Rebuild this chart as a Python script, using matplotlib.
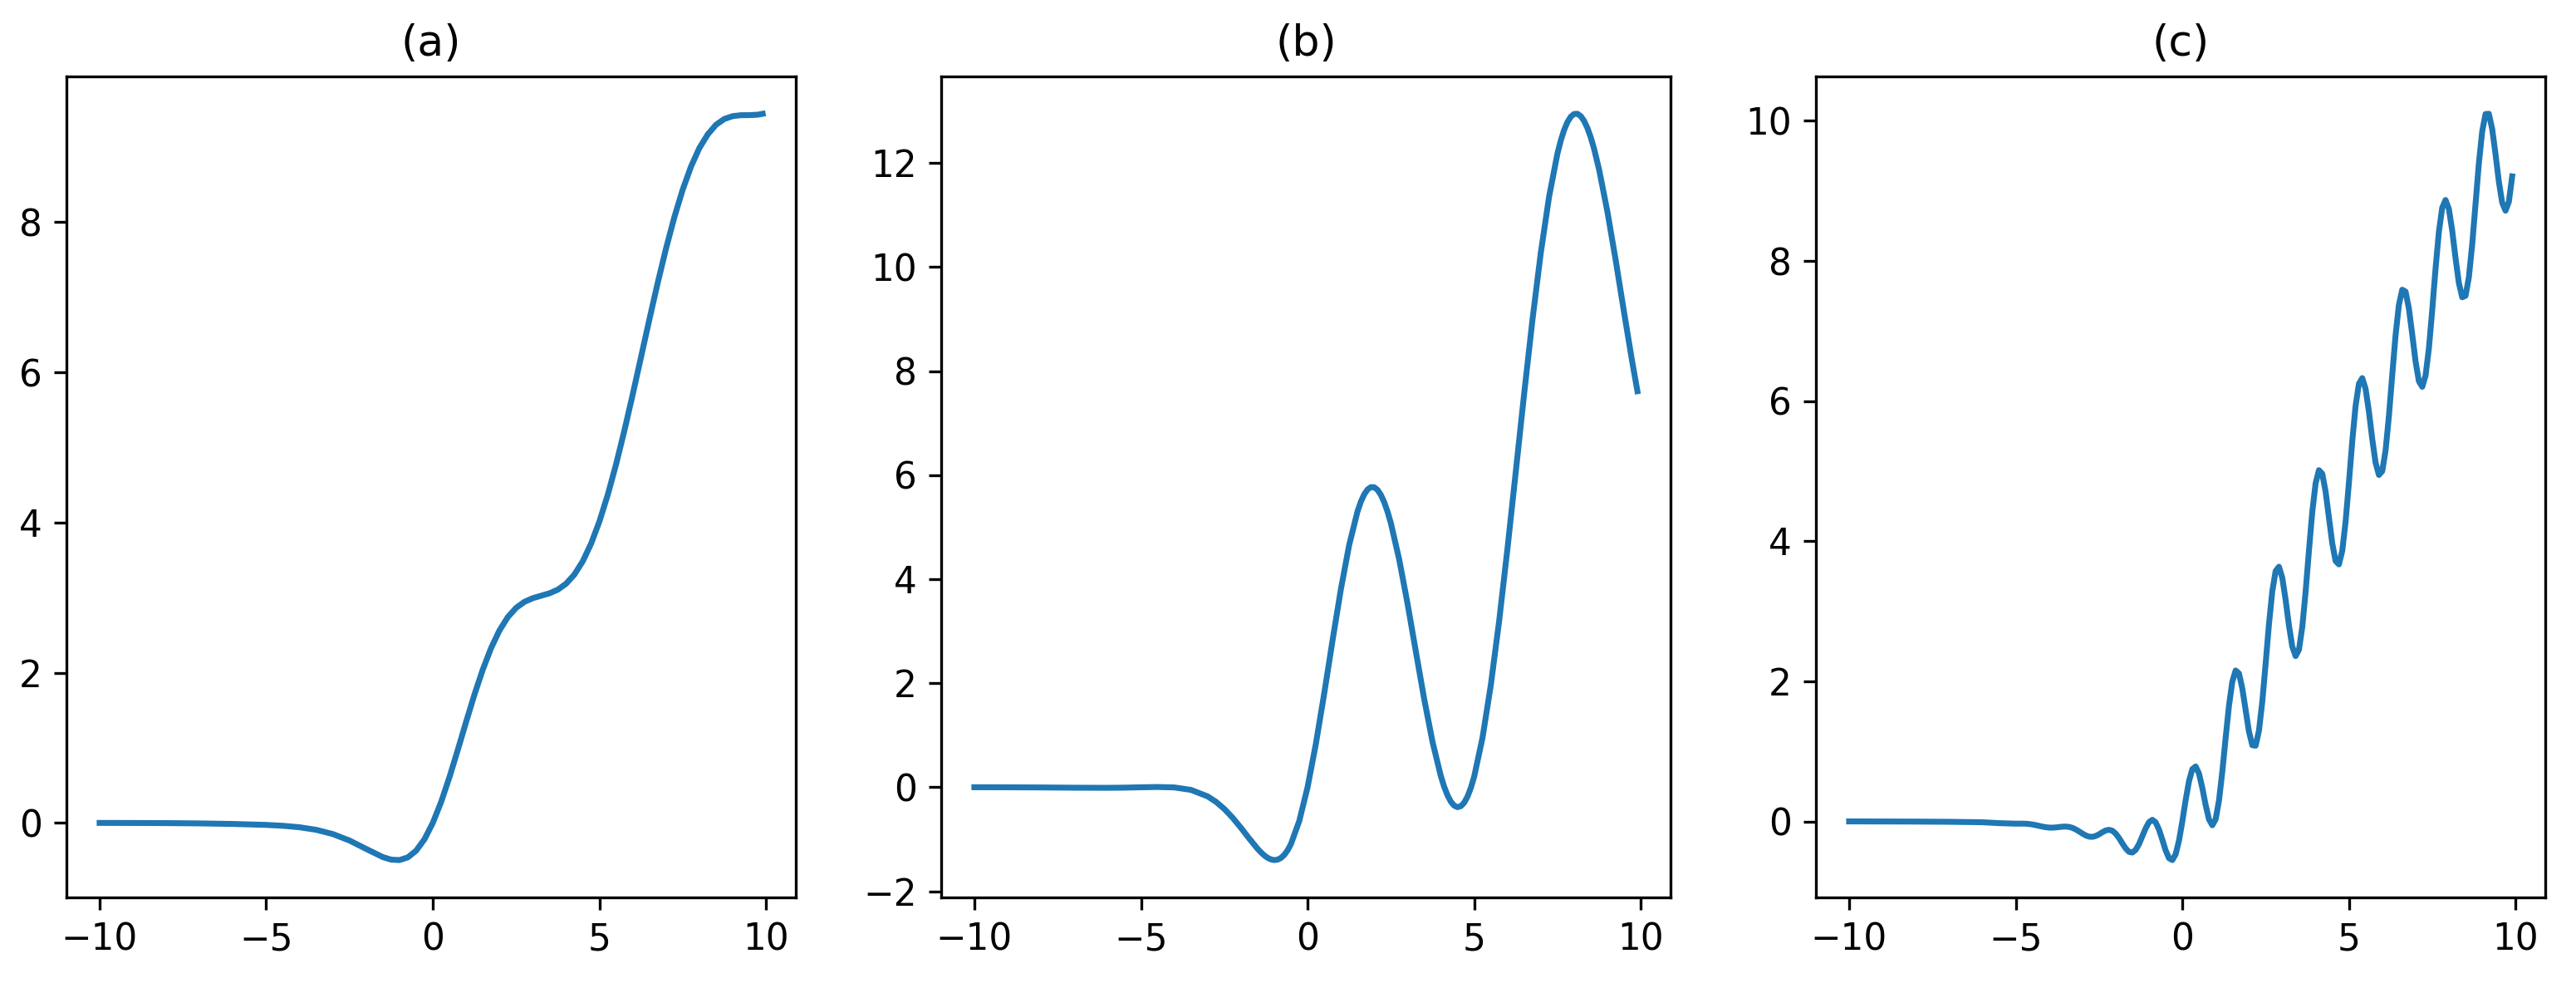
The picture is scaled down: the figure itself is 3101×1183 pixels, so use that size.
import matplotlib
matplotlib.use("Agg")
import matplotlib.pyplot as plt

# (a): x and y
xa = [-10, -9, -8, -7, -6, -5, -4.5, -4, -3.5, -3, -2.5, -2, -1.5, -1.25, -1, -0.75,
      -0.5, -0.25, 0, 0.25, 0.5, 0.75, 1, 1.25, 1.5, 1.75, 2, 2.25, 2.5, 2.75, 3,
      3.25, 3.5, 3.75, 4, 4.25, 4.5, 4.75, 5, 5.25, 5.5, 5.75, 6, 6.25, 6.5, 6.75,
      7, 7.25, 7.5, 7.75, 8, 8.25, 8.5, 8.75, 9, 9.25, 9.5, 9.75, 9.9]
ya = [-0.0004, -0.0012, -0.003, -0.007, -0.0142, -0.027, -0.0387, -0.0583, -0.0923,
      -0.149, -0.2351, -0.3468, -0.4555, -0.4897, -0.4952, -0.4593, -0.3697, -0.2178,
      0.0, 0.2796, 0.6097, 0.9723, 1.3463, 1.7093, 2.042, 2.3294, 2.5625, 2.7395,
      2.8633, 2.9435, 2.9922, 3.0246, 3.0569, 3.1053, 3.1848, 3.3077, 3.4838, 3.7185,
      4.014, 4.3683, 4.7748, 5.2249, 5.7063, 6.2048, 6.705, 7.1916, 7.65, 8.0674,
      8.4334, 8.7408, 8.9863, 9.1669, 9.2966, 9.3732, 9.411, 9.4234, 9.4241, 9.43, 9.442]

# (b)
xb = [-10, -9, -8, -7, -6, -5.5, -5, -4.5, -4, -3.5, -3, -2.75, -2.5, -2.25, -2,
      -1.75, -1.5, -1.4, -1.3, -1.2, -1.1, -1.0, -0.9, -0.8, -0.7, -0.6, -0.5,
      -0.25, 0, 0.25, 0.5, 0.75, 1, 1.25, 1.5, 1.6, 1.7, 1.8, 1.9, 2.0, 2.1, 2.2,
      2.3, 2.4, 2.5, 2.75, 3, 3.25, 3.5, 3.75, 4, 4.1, 4.2, 4.3, 4.4, 4.5, 4.6,
      4.7, 4.8, 4.9, 5, 5.25, 5.5, 5.75, 6, 6.25, 6.5, 6.75, 7, 7.25, 7.5, 7.6,
      7.7, 7.8, 7.9, 8.0, 8.1, 8.2, 8.3, 8.4, 8.5, 8.6, 8.75, 9, 9.25, 9.5, 9.75, 9.9]
yb = [-0.0003, -0.0014, -0.0043, -0.0094, -0.0114, -0.008, -0.0014, 0.0043, -0.0039,
      -0.0512, -0.1758, -0.2798, -0.4167, -0.5854, -0.7803,
      -0.9872, -1.1833, -1.2516, -1.3103, -1.3565, -1.3875, -1.4003, -1.3922, -1.3601,
      -1.301, -1.2129, -1.0936,
      -0.651, 0.0, 0.836, 1.8034, 2.8241, 3.8072, 4.6599, 5.3042, 5.4897, 5.63, 5.723,
      5.7687, 5.7662, 5.716, 5.6198,
      5.4791, 5.2969, 5.0756, 4.3785, 3.5299, 2.608, 1.6948, 0.8715, 0.2121, 0.0084,
      -0.1557, -0.2772, -0.3537, -0.3832, -0.3648,
      -0.2968, -0.1795, -0.0124, 0.2041, 0.9505, 1.9644, 3.1982, 4.5915, 6.0723, 7.5641,
      8.9895, 10.2757, 11.3574, 12.1833, 12.4333,
      12.6353, 12.7873, 12.8897, 12.9426, 12.9456, 12.9, 12.8078, 12.6702, 12.49, 12.2698,
      11.8716, 11.0592, 10.1205, 9.1234, 8.1525, 7.6125]

# (c)
xc = [-10, -9, -8, -7, -6, -5.5,
      -5.0, -4.9, -4.8, -4.7, -4.6, -4.5, -4.4, -4.3, -4.2, -4.1,
      -4.0, -3.9, -3.8, -3.7, -3.6, -3.5, -3.4, -3.3, -3.2, -3.1,
      -3.0, -2.9, -2.8, -2.7, -2.6, -2.5, -2.4, -2.3, -2.2, -2.1,
      -2.0, -1.9, -1.8, -1.7, -1.6, -1.5, -1.4, -1.3, -1.2, -1.1,
      -1.0, -0.9, -0.8, -0.7, -0.6, -0.5, -0.4, -0.3, -0.2, -0.1,
      0.0, 0.1, 0.2, 0.3, 0.4, 0.5, 0.6, 0.7, 0.8, 0.9,
      1.0, 1.1, 1.2, 1.3, 1.4, 1.5, 1.6, 1.7, 1.8, 1.9,
      2.0, 2.1, 2.2, 2.3, 2.4, 2.5, 2.6, 2.7, 2.8, 2.9,
      3.0, 3.1, 3.2, 3.3, 3.4, 3.5, 3.6, 3.7, 3.8, 3.9,
      4.0, 4.1, 4.2, 4.3, 4.4, 4.5, 4.6, 4.7, 4.8, 4.9,
      5.0, 5.1, 5.2, 5.3, 5.4, 5.5, 5.6, 5.7, 5.8, 5.9,
      6.0, 6.1, 6.2, 6.3, 6.4, 6.5, 6.6, 6.7, 6.8, 6.9,
      7.0, 7.1, 7.2, 7.3, 7.4, 7.5, 7.6, 7.7, 7.8, 7.9,
      8.0, 8.1, 8.2, 8.3, 8.4, 8.5, 8.6, 8.7, 8.8, 8.9,
      9.0, 9.1, 9.2, 9.3, 9.4, 9.5, 9.6, 9.7, 9.8, 9.9]
yc = [-0.0004, -0.0012, -0.0029, -0.006, -0.0124, -0.0252,
      -0.0326, -0.0318, -0.0318, -0.0334, -0.0374, -0.0441, -0.0533, -0.0639, -0.0744, -0.0831,
      -0.0884, -0.0894, -0.0864, -0.081, -0.0758, -0.074, -0.0788, -0.0921, -0.1141, -0.1425,
      -0.1731, -0.2, -0.2173, -0.2206, -0.2088, -0.1846, -0.155, -0.1298, -0.1197, -0.1331,
      -0.1736, -0.2374, -0.3138, -0.3859, -0.435, -0.4448, -0.4069, -0.3245, -0.2131, -0.0985,
      -0.0111, 0.0224, -0.0134, -0.1159, -0.2626, -0.4147, -0.5254, -0.5522, -0.4689, -0.2752,
      0.0, 0.3042, 0.5727, 0.7453, 0.7839, 0.6838, 0.4785, 0.2333, 0.0298, -0.0551,
      0.03, 0.296, 0.7075, 1.1906, 1.6501, 1.9932, 2.1544, 2.1126, 1.8983, 1.5874,
      1.2824, 1.0872, 1.0803, 1.2947, 1.7084, 2.2491, 2.8114, 3.2832, 3.5733, 3.6349,
      3.4772, 3.164, 2.798, 2.4962, 2.3598, 2.4504, 2.7732, 3.2765, 3.8635, 4.4161,
      4.8245, 5.0138, 4.9623, 4.7077, 4.3378, 3.9687, 3.7165, 3.6688, 3.8626, 4.2768,
      4.835, 5.4258, 5.9298, 6.248, 6.3277, 6.1752, 5.8493, 5.4585, 5.1209, 4.9455,
      4.9996, 5.2944, 5.7842, 6.3723, 6.9399, 7.3727, 7.5896, 7.562, 7.321, 6.9504,
      6.5658, 6.2837, 6.2035, 6.3635, 6.7524, 7.2979, 7.8925, 8.4142, 8.7604, 8.8703,
      8.7421, 8.4324, 8.0392, 7.6855, 7.4819, 7.5025, 7.7668, 8.2352, 8.8164, 9.3936,
      9.8497, 10.0975, 10.1008, 9.8831, 9.5228, 9.1321, 8.8311, 8.7178, 8.8458, 9.2074]

titles = ['(a)', '(b)', '(c)']

plt.rcParams['font.size'] = 10.5
plt.rcParams['axes.titlesize'] = 12.5

fig, axes = plt.subplots(1, 3, figsize=(3101 / 300, 1183 / 300), dpi=300)
for ax, x, y, t in zip(axes, [xa, xb, xc], [ya, yb, yc], titles):
    ax.plot(x, y, linewidth=1.7)
    ax.set_title(t)

plt.subplots_adjust(left=0.0258, right=0.9881, bottom=0.0871, top=0.9222, wspace=0.1993)
plt.savefig('out.png', dpi=300)
